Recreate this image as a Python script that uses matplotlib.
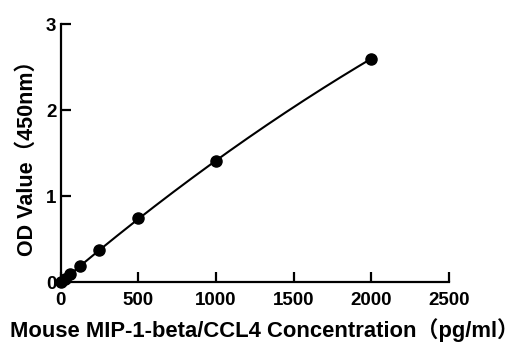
import matplotlib
matplotlib.use("Agg")
import matplotlib.pyplot as plt
import numpy as np

plt.rcParams["font.family"] = ["Liberation Sans", "Noto Sans CJK SC", "DejaVu Sans"]
plt.rcParams["font.weight"] = "bold"

# standard curve: concentration (pg/ml) vs OD at 450nm
conc = [0, 31.25, 62.5, 125, 250, 500, 1000, 2000]
od = [0.0, 0.04, 0.09, 0.19, 0.37, 0.74, 1.41, 2.60]
x_ticks = [0, 500, 1000, 1500, 2000, 2500]
y_ticks = [0, 1, 2, 3]

fig = plt.figure(figsize=(5.18, 3.5), dpi=100)
ax = fig.add_axes([0.117, 0.194, 0.750, 0.737])

# quadratic fit through the standards
coef = np.polyfit(conc, od, 2)
xs = np.linspace(0, max(conc), 200)
ax.plot(xs, np.polyval(coef, xs), color="black", lw=1.5, zorder=2)
ax.plot(conc, od, "o", color="black", ms=8, zorder=3, clip_on=False)

ax.set_xlim(0, 2500)
ax.set_ylim(0, 3)
ax.set_xticks(x_ticks)
ax.set_yticks(y_ticks)
for side in ("top", "right"):
    ax.spines[side].set_visible(False)
for side in ("left", "bottom"):
    ax.spines[side].set_linewidth(1.6)
ax.tick_params(direction="in", length=7, width=1.6, labelsize=13.5)
ax.tick_params(axis="x", pad=7)
ax.tick_params(axis="y", pad=3)
for lab in ax.get_xticklabels() + ax.get_yticklabels():
    lab.set_fontweight("bold")

ax.set_xlabel("Mouse MIP-1-beta/CCL4 Concentration（pg/ml）", fontsize=15.8,
              fontweight="bold", labelpad=7)
ax.xaxis.label.set_x(0.525)
ax.set_ylabel("OD Value（450nm）", fontsize=15.5, fontweight="bold", labelpad=6)

fig.savefig("out.png", dpi=100)
